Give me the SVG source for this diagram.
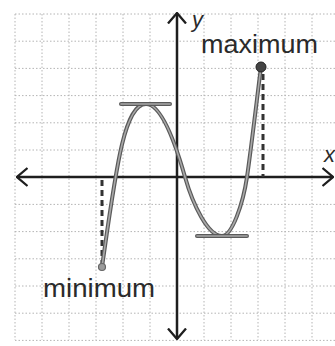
<svg xmlns="http://www.w3.org/2000/svg" width="335" height="346" viewBox="0 0 335 346">
  <style>
    .grid line { stroke: #b4b4b4; stroke-width: 1; stroke-dasharray: 1.5 2; }
    .axis { stroke: #1e1e1e; stroke-width: 2.5; fill: none; }
    .curve-out { stroke: #5a5a5a; stroke-width: 4; fill: none; stroke-linecap: round; }
    .curve-in { stroke: #a8a8a8; stroke-width: 1.6; fill: none; stroke-linecap: round; }
    .drop { stroke: #333; stroke-width: 3; stroke-dasharray: 6 4; fill: none; }
    .label { font-family: "Liberation Sans", Arial, sans-serif; font-size: 26px; fill: #2a2a2a; }
    .axlabel { font-family: "Liberation Sans", Arial, sans-serif; font-size: 22px; font-style: italic; fill: #2a2a2a; }
  </style>
  <defs>
    <marker id="chev" viewBox="0 0 12 20" refX="11" refY="10" markerWidth="12" markerHeight="20" markerUnits="userSpaceOnUse" orient="auto-start-reverse">
      <path d="M0.5,1 L11,10 L0.5,19" fill="none" stroke="#1e1e1e" stroke-width="2.3"/>
    </marker>
  </defs>
  <rect width="335" height="346" fill="#ffffff"/>

  <g id="grid" class="grid">
    <line x1="15" y1="14" x2="15" y2="340"/>
    <line x1="42" y1="14" x2="42" y2="340"/>
    <line x1="69" y1="14" x2="69" y2="340"/>
    <line x1="96" y1="14" x2="96" y2="340"/>
    <line x1="123" y1="14" x2="123" y2="340"/>
    <line x1="150" y1="14" x2="150" y2="340"/>
    <line x1="204" y1="14" x2="204" y2="340"/>
    <line x1="231" y1="14" x2="231" y2="340"/>
    <line x1="258" y1="14" x2="258" y2="340"/>
    <line x1="285" y1="14" x2="285" y2="340"/>
    <line x1="312" y1="14" x2="312" y2="340"/>
    <line x1="15" y1="14" x2="335" y2="14"/>
    <line x1="15" y1="41.2" x2="335" y2="41.2"/>
    <line x1="15" y1="68.4" x2="335" y2="68.4"/>
    <line x1="15" y1="95.6" x2="335" y2="95.6"/>
    <line x1="15" y1="122.8" x2="335" y2="122.8"/>
    <line x1="15" y1="150" x2="335" y2="150"/>
    <line x1="15" y1="204.4" x2="335" y2="204.4"/>
    <line x1="15" y1="231.6" x2="335" y2="231.6"/>
    <line x1="15" y1="258.8" x2="335" y2="258.8"/>
    <line x1="15" y1="286" x2="335" y2="286"/>
    <line x1="15" y1="313.2" x2="335" y2="313.2"/>
    <line x1="15" y1="340.4" x2="335" y2="340.4"/>
  </g>

  <g id="axes">
    <line class="axis" x1="17" y1="177" x2="333" y2="177" marker-start="url(#chev)" marker-end="url(#chev)"/>
    <line class="axis" x1="177" y1="13" x2="177" y2="339" marker-start="url(#chev)" marker-end="url(#chev)"/>
    <text class="axlabel" x="192" y="27">y</text>
    <text class="axlabel" x="324" y="162">x</text>
  </g>

  <g id="drops">
    <line class="drop" x1="102" y1="180" x2="102" y2="266"/>
    <line class="drop" x1="263" y1="74" x2="263" y2="177"/>
  </g>

  <g id="curve">
    <path class="curve-out" d="M102,267 C116,169 124,104 146,104 C162,104 176,145.5 185,177 C193,205 208,236 222,236 C232,236 243,204 247,177 C251,150 258,90 261,67"/>
    <path class="curve-in" d="M102,267 C116,169 124,104 146,104 C162,104 176,145.5 185,177 C193,205 208,236 222,236 C232,236 243,204 247,177 C251,150 258,90 261,67"/>
    <line class="curve-out" x1="121" y1="104" x2="170" y2="104"/>
    <line class="curve-in" x1="121" y1="104" x2="170" y2="104"/>
    <line class="curve-out" x1="197" y1="236" x2="247" y2="236"/>
    <line class="curve-in" x1="197" y1="236" x2="247" y2="236"/>
  </g>

  <g id="minimum">
    <circle cx="102" cy="267" r="3.5" fill="#9a9a9a" stroke="#666" stroke-width="1.2"/>
    <text class="label" x="43" y="297" textLength="112" lengthAdjust="spacingAndGlyphs">minimum</text>
  </g>

  <g id="maximum">
    <circle cx="261" cy="67" r="5" fill="#444" stroke="#222" stroke-width="1"/>
    <text class="label" x="201" y="53" textLength="117" lengthAdjust="spacingAndGlyphs">maximum</text>
  </g>
</svg>
